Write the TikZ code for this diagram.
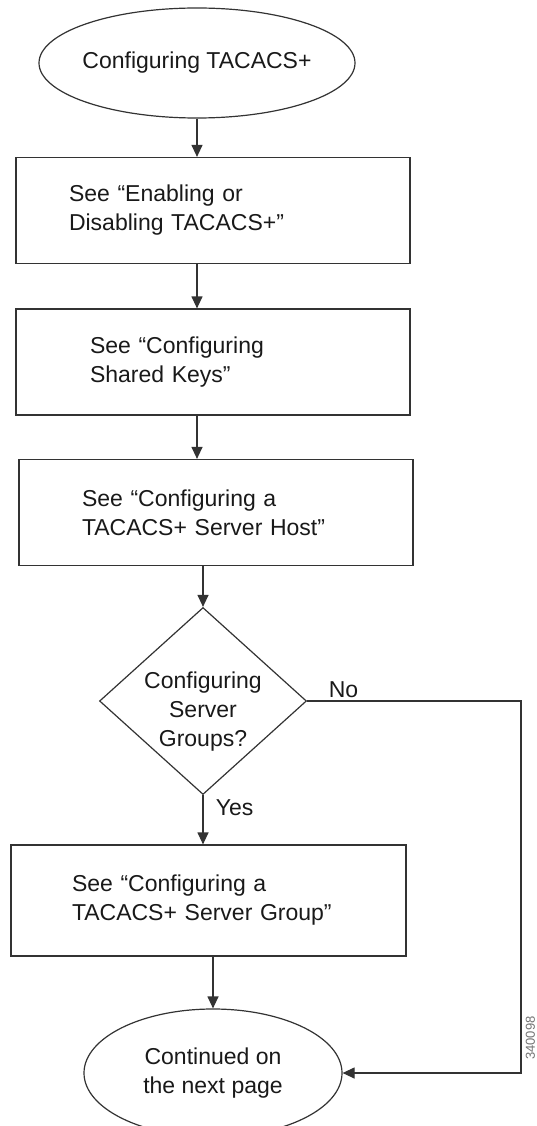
\documentclass[tikz,border=0pt]{standalone}
\usepackage{fontspec}
\setmainfont{Liberation Sans}
\usetikzlibrary{shapes.geometric,arrows.meta}
\begin{document}
\begin{tikzpicture}[x=1pt,y=-1pt,
    line width=1.2pt,color=black!80,text=black!90,
    font=\fontsize{23}{29}\selectfont,
    terminal/.style={ellipse,draw,inner ysep=0pt,align=center},
    seebox/.style={rectangle,draw,minimum width=394pt,minimum height=106pt,
      inner xsep=0pt,align=left},
    choice/.style={diamond,draw,aspect=1.107,inner xsep=0pt,inner ysep=-10pt,align=center,
      minimum width=207pt,minimum height=187pt},
    flow/.style={-{Triangle[width=11pt,length=12pt]}}]
      \useasboundingbox (0,0) rectangle (536,1126);
      \draw
        (197,63) node[terminal,inner xsep=-8pt,minimum width=316pt,minimum height=110pt] (start){Configuring TACACS+}
        (213,210.5) node[seebox,text width=288pt] (box1){See “Enabling or\\Disabling TACACS+”}
        (213,362) node[seebox,text width=246pt] (box2){See “Configuring\\Shared Keys”}
        (216,512.5) node[seebox,text width=268pt] (box3){See “Configuring a\\TACACS+ Server Host”}
        (203,701) node[choice] (dec){\rule{0pt}{37pt}Configuring\\Server\\Groups?}
        (208.5,900.5) node[seebox,text width=273pt,minimum width=395pt,minimum height=111pt] (box4){See “Configuring a\\TACACS+ Server Group”}
        (213,1073) node[terminal,minimum width=258pt,minimum height=128pt] (end){Continued on\\the next page};
      \coordinate (turn) at (521,0);
      \node[rotate=90,inner sep=0pt,text=black!55,font=\fontsize{13}{13}\selectfont] (figid) at (530.5,1038) {340098};
      \begin{scope}[flow]
        \draw (start.south) to (start.south |- box1.north);
        \draw (box1.south -| start.south) to (box2.north -| start.south);
        \draw (box2.south -| start.south) to (box3.north -| start.south);
        \draw (box3.south -| dec.north) to (dec.north);
        \draw (dec.south) to node[pos=0.25,anchor=west,xshift=9pt] (yes){Yes} (dec.south |- box4.north);
        \draw (box4.south -| end.north) to (end.north);
        \draw (dec.east) -- node[pos=0.17,above,inner sep=3pt] (no){No} (dec.east -| turn) |- (end.east);
      \end{scope}
    \end{tikzpicture}
\end{document}
